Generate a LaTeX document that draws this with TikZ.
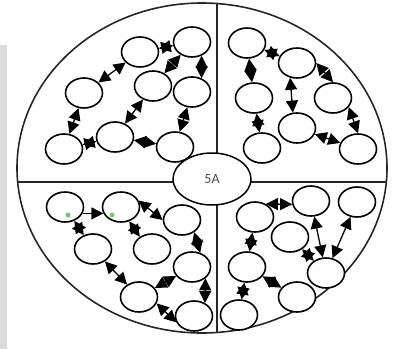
\documentclass[tikz,border=0pt]{standalone}
\usepackage{fontspec}
\newfontfamily\labelfont{Carlito}
\usetikzlibrary{shapes.geometric,arrows.meta}
\tikzset{
  cell/.style={ellipse,draw,line width=1.6pt,fill=white,minimum width=37pt,minimum height=30pt,inner sep=0pt},
  hub/.style={ellipse,draw,line width=1.5pt,fill=white,minimum width=78pt,minimum height=52pt,inner sep=0pt,font=\labelfont\fontsize{14}{14}\selectfont,text=black!70},
  link/.style={line width=1.3pt,{Triangle[length=12pt,width=12pt]}-{Triangle[length=12pt,width=12pt]}},
  onelink/.style={line width=1.3pt,-{Triangle[length=12pt,width=12pt]}},
  frame/.style={line width=1.6pt,black!85},
  greendot/.style={fill=green!60!black,opacity=.55}
}
\begin{document}
\begin{tikzpicture}[x=1pt,y=-1pt]
\useasboundingbox (0,0) rectangle (400,349);
\fill[white] (0,0) rectangle (400,349);
% grey strip along the left margin
\fill[black!14] (0,45) rectangle (7,349);

% outer disc split into four quarters
\draw[frame] (202,168) ellipse [x radius=185, y radius=165];
\begin{scope}
  \clip (202,168) ellipse [x radius=185, y radius=165];
  \draw[frame] (0,182) -- (400,182);
  \draw[frame] (217,0) -- (217,349);
\end{scope}
\node[hub] (hub) at (212,179) {5A};

% upper left quarter
\node[cell] (A1) at (140,52) {};
\node[cell] (A2) at (84,93) {};
\node[cell] (A3) at (64,149) {};
\node[cell] (A4) at (115,137) {};
\node[cell] (A5) at (153,86) {};
\node[cell] (A6) at (175,147) {};
\node[cell] (A7) at (192,42) {};
\node[cell] (A8) at (192,92) {};
\draw[link] (A3) -- (A2);
\draw[link] (A2) -- (A1);
\draw[link] (A3) -- (A4);
\draw[link] (A4) -- (A6);
\draw[link] (A4) -- (A5);
\draw[link] (A1) -- (A7);
\draw[link] (A5) -- (A7);
\draw[link] (A7.-55) -- (A8.55);
\draw[link] (A8) -- (A6);

% upper right quarter
\node[cell] (B1) at (247,43) {};
\node[cell] (B2) at (297,63) {};
\node[cell] (B3) at (254,98) {};
\node[cell] (B4) at (333,98) {};
\node[cell] (B5) at (297,128) {};
\node[cell] (B6) at (262,148) {};
\node[cell] (B7) at (358,149) {};
\draw[link] (B1) -- (B2);
\draw[link] (B1) -- (B3);
\draw[link] (B2.east) -- (B4.north);
\draw[link] (B2.-115) -- (B5.105);
\draw[link] (B3) -- (B6);
\draw[link] (B4.-30) -- (B7.north);
\draw[link] (B5) -- (B7);

% lower left quarter
\node[cell] (C1) at (65,207) {};
\node[cell] (C2) at (121,207) {};
\node[cell] (C3) at (93,249) {};
\node[cell] (C4) at (152,249) {};
\node[cell] (C5) at (182,220) {};
\node[cell] (C6) at (192,267) {};
\node[cell] (C7) at (139,297) {};
\node[cell] (C8) at (194,316) {};
\fill[greendot] (68,215) circle (2.5);
\fill[greendot] (112,215) circle (2.5);
\draw[onelink] (C1.-20) -- (C2.200);
\draw[link] (C1) -- (C3);
\draw[link] (C2.20) -- (C5.west);
\draw[link] (C2.-60) -- (C4.135);
\draw[link] (C3) -- (C7);
\draw[link] (C5.-45) -- (C6.60);
\draw[link] (C6) -- (C7);
\draw[link] (C6.-40) -- (C8.50);
\draw[link] (C7.-20) -- (C8.200);

% lower right quarter
\node[cell] (D1) at (255,217) {};
\node[cell] (D2) at (311,201) {};
\node[cell] (D3) at (357,202) {};
\node[cell] (D4) at (290,237) {};
\node[cell] (D5) at (247,267) {};
\node[cell] (D6) at (326,273) {};
\node[cell] (D7) at (297,297) {};
\node[cell] (D8) at (239,315) {};
\draw[link] (D1.50) -- (D2.190);
\draw[link] (D2) -- (D6);
\draw[link] (D3) -- (D6);
\draw[link] (D4) -- (D6);
\draw[link] (D1) -- (D5);
\draw[link] (D5) -- (D8);
\draw[link] (D5) -- (D7);
\end{tikzpicture}
\end{document}
